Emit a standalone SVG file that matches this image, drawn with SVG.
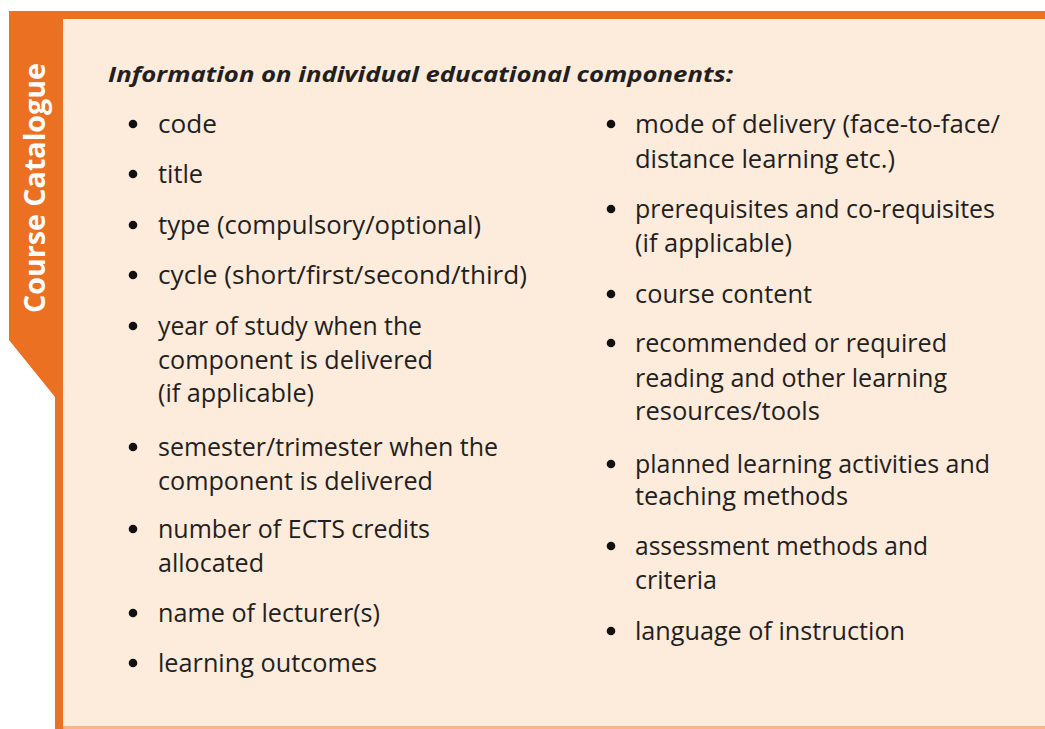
<svg xmlns="http://www.w3.org/2000/svg" width="1045" height="729" viewBox="0 0 1045 729">
<style>
.bg{fill:#ffffff}
.panel{fill:#FDEBDC}
.orange{fill:#EC7022}
.t{font-family:"Open Sans","Liberation Sans",sans-serif;font-size:25px;fill:#231F20}
.title{font-family:"Open Sans","Liberation Sans",sans-serif;font-size:21px;font-weight:bold;font-style:italic;fill:#231F20}
.side{font-family:"Open Sans","Liberation Sans",sans-serif;font-size:28px;font-weight:bold;fill:#ffffff}
.b{fill:#111111}
</style>
<rect class="bg" x="0" y="0" width="1045" height="729"/>
<g id="frame">
<rect class="panel" x="63" y="19" width="982" height="710"/>
<rect x="63" y="726" width="982" height="3" fill="#F6B68A"/>
<rect class="orange" x="9" y="11" width="1036" height="8"/>
<polygon class="orange" points="9,11 63,11 63,729 55,729 55,397 9,340"/>
<text class="side" transform="translate(45,313) rotate(-90)" textLength="250" lengthAdjust="spacingAndGlyphs">Course Catalogue</text>
</g>
<g id="heading">
<text class="title" x="108" y="82" textLength="625" lengthAdjust="spacingAndGlyphs">Information on individual educational components:</text>
</g>
<g id="left-column">
<circle class="b" cx="133" cy="124" r="4.3"/>
<text class="t" x="158" y="133" textLength="59" lengthAdjust="spacingAndGlyphs">code</text>
<circle class="b" cx="133" cy="174" r="4.3"/>
<text class="t" x="158" y="183" textLength="45" lengthAdjust="spacingAndGlyphs">title</text>
<circle class="b" cx="133" cy="225" r="4.3"/>
<text class="t" x="158" y="234" textLength="323" lengthAdjust="spacingAndGlyphs">type (compulsory/optional)</text>
<circle class="b" cx="133" cy="275" r="4.3"/>
<text class="t" x="158" y="284" textLength="369" lengthAdjust="spacingAndGlyphs">cycle (short/first/second/third)</text>
<circle class="b" cx="133" cy="326" r="4.3"/>
<text class="t" x="158" y="335" textLength="264" lengthAdjust="spacingAndGlyphs">year of study when the</text>
<text class="t" x="158" y="369" textLength="275" lengthAdjust="spacingAndGlyphs">component is delivered</text>
<text class="t" x="158" y="402" textLength="156" lengthAdjust="spacingAndGlyphs">(if applicable)</text>
<circle class="b" cx="133" cy="447" r="4.3"/>
<text class="t" x="158" y="456" textLength="340" lengthAdjust="spacingAndGlyphs">semester/trimester when the</text>
<text class="t" x="158" y="490" textLength="275" lengthAdjust="spacingAndGlyphs">component is delivered</text>
<circle class="b" cx="133" cy="529" r="4.3"/>
<text class="t" x="158" y="538" textLength="272" lengthAdjust="spacingAndGlyphs">number of ECTS credits</text>
<text class="t" x="158" y="572" textLength="106" lengthAdjust="spacingAndGlyphs">allocated</text>
<circle class="b" cx="133" cy="613" r="4.3"/>
<text class="t" x="158" y="622" textLength="222" lengthAdjust="spacingAndGlyphs">name of lecturer(s)</text>
<circle class="b" cx="133" cy="663" r="4.3"/>
<text class="t" x="158" y="672" textLength="219" lengthAdjust="spacingAndGlyphs">learning outcomes</text>
</g>
<g id="right-column">
<circle class="b" cx="611" cy="124" r="4.3"/>
<text class="t" x="635" y="133" textLength="365" lengthAdjust="spacingAndGlyphs">mode of delivery (face-to-face/</text>
<text class="t" x="635" y="168" textLength="260" lengthAdjust="spacingAndGlyphs">distance learning etc.)</text>
<circle class="b" cx="611" cy="209" r="4.3"/>
<text class="t" x="635" y="218" textLength="360" lengthAdjust="spacingAndGlyphs">prerequisites and co-requisites</text>
<text class="t" x="635" y="252" textLength="157" lengthAdjust="spacingAndGlyphs">(if applicable)</text>
<circle class="b" cx="611" cy="294" r="4.3"/>
<text class="t" x="635" y="303" textLength="177" lengthAdjust="spacingAndGlyphs">course content</text>
<circle class="b" cx="611" cy="343" r="4.3"/>
<text class="t" x="635" y="352" textLength="312" lengthAdjust="spacingAndGlyphs">recommended or required</text>
<text class="t" x="635" y="387" textLength="312" lengthAdjust="spacingAndGlyphs">reading and other learning</text>
<text class="t" x="635" y="420" textLength="185" lengthAdjust="spacingAndGlyphs">resources/tools</text>
<circle class="b" cx="611" cy="464" r="4.3"/>
<text class="t" x="635" y="473" textLength="355" lengthAdjust="spacingAndGlyphs">planned learning activities and</text>
<text class="t" x="635" y="505" textLength="213" lengthAdjust="spacingAndGlyphs">teaching methods</text>
<circle class="b" cx="611" cy="546" r="4.3"/>
<text class="t" x="635" y="555" textLength="293" lengthAdjust="spacingAndGlyphs">assessment methods and</text>
<text class="t" x="635" y="589" textLength="82" lengthAdjust="spacingAndGlyphs">criteria</text>
<circle class="b" cx="611" cy="631" r="4.3"/>
<text class="t" x="635" y="640" textLength="270" lengthAdjust="spacingAndGlyphs">language of instruction</text>
</g>
</svg>
